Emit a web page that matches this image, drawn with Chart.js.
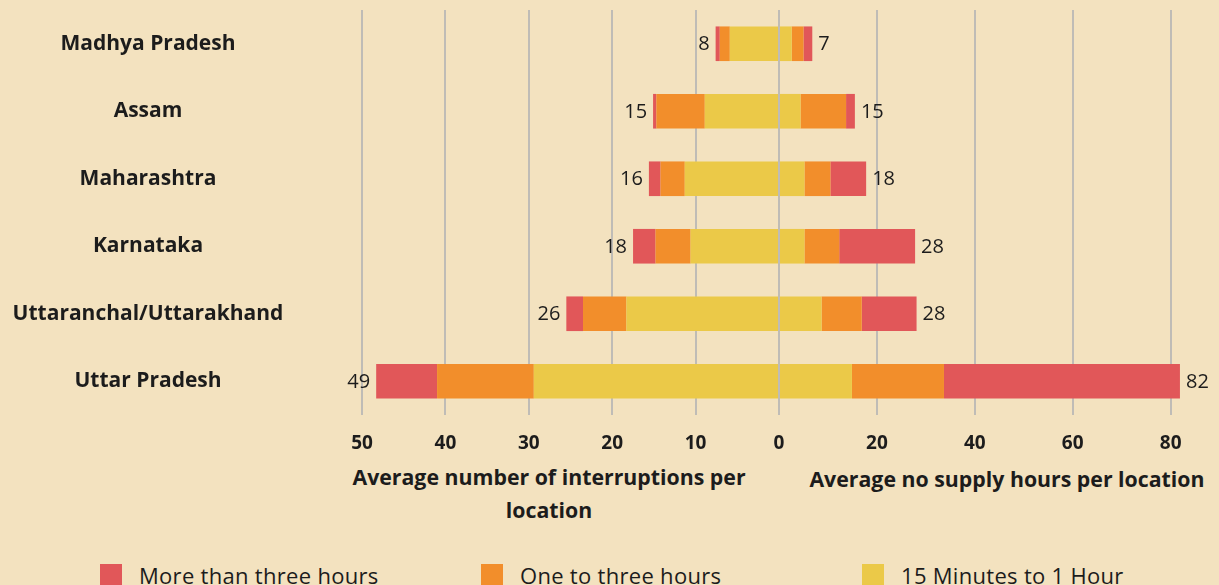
<!DOCTYPE html>
<html>
<head>
<meta charset="utf-8">
<script src="https://cdn.jsdelivr.net/npm/chart.js@4.4.1/dist/chart.umd.min.js"></script>
<style>
	html, body { margin: 0; background: #F3E2BF; }
	#wrap { position: relative; width: 1219px; height: 585px; overflow: hidden; font-family: "Open Sans", sans-serif; color: #1c1c1c; }
	#chart { position: absolute; left: 0; top: 0; }
	.axis-title { position: absolute; font-weight: bold; font-size: 21.3px; line-height: 33px; text-align: center; white-space: nowrap; }
	.legend { position: absolute; top: 560px; display: flex; align-items: center; font-size: 22px; letter-spacing: 0.3px; white-space: nowrap; }
	.legend i { display: inline-block; width: 22px; height: 23px; margin-right: 17px; }
</style>
</head>
<body>
<div id="wrap">
	<canvas id="chart" width="1219" height="460"></canvas>
	<div class="axis-title" style="left:339px; top:460px; width:420px;">Average number of interruptions per<br>location</div>
	<div class="axis-title" style="left:797px; top:462px; width:420px;">Average no supply hours per location</div>
	<div id="legend"></div>
</div>
<script>
const states = ['Madhya Pradesh', 'Assam', 'Maharashtra', 'Karnataka', 'Uttaranchal/Uttarakhand', 'Uttar Pradesh'];

// left half: average number of interruptions per location
const intShort = [5.9, 8.9, 11.3, 10.6, 18.3, 29.4];   // 15 Minutes to 1 Hour
const intMid = [1.2, 5.8, 2.9, 4.2, 5.2, 11.6];        // One to three hours
const intLong = [0.5, 0.4, 1.4, 2.7, 2.0, 7.3];        // More than three hours
const intTotals = [8, 15, 16, 18, 26, 49];

// right half: average no supply hours per location
const hrsShort = [2.6, 4.4, 5.2, 5.2, 8.7, 14.9];
const hrsMid = [2.4, 9.3, 5.3, 7.1, 8.2, 18.8];
const hrsLong = [1.8, 1.8, 7.3, 15.5, 11.2, 48.2];
const hrsTotals = [7, 15, 18, 28, 28, 82];

const intTicks = [50, 40, 30, 20, 10, 0];
const hrsTicks = [20, 40, 60, 80];

const seriesNames = ['More than three hours', 'One to three hours', '15 Minutes to 1 Hour'];
const colors = { long: '#E15759', mid: '#F28E2B', short: '#EBC948' };

// the two halves use different units: one hour on the right is drawn as R interruptions
const R = 0.587;
const fg = '#1c1c1c';
const family = 'Open Sans';
const labelFont = { family, weight: 'bold', size: 21 };

// center the state names on x=148 with the plot starting at x=362
const measure = document.createElement('canvas').getContext('2d');
measure.font = `bold ${labelFont.size}px "${family}"`;
const widest = Math.max(...states.map(s => measure.measureText(s).width));

const bar = (label, values, color, sign) => ({
	label,
	data: values.map(v => v * sign),
	backgroundColor: color,
	borderWidth: 0,
	barPercentage: 0.513,
	categoryPercentage: 1,
});

const totalsPlugin = {
	id: 'totals',
	afterDatasetsDraw(chart) {
		const { ctx, scales: { x, y } } = chart;
		ctx.save();
		ctx.font = `20px "${family}"`;
		ctx.fillStyle = fg;
		ctx.textBaseline = 'middle';
		states.forEach((s, i) => {
			const yc = y.getPixelForValue(i) + 1;
			const left = intShort[i] + intMid[i] + intLong[i];
			const right = (hrsShort[i] + hrsMid[i] + hrsLong[i]) * R;
			ctx.textAlign = 'right';
			ctx.fillText(intTotals[i], x.getPixelForValue(-left) - 6, yc);
			ctx.textAlign = 'left';
			ctx.fillText(hrsTotals[i], x.getPixelForValue(right) + 6, yc);
		});
		ctx.restore();
	},
};

new Chart(document.getElementById('chart'), {
	type: 'bar',
	data: {
		labels: states,
		datasets: [
			bar('15 Minutes to 1 Hour', intShort, colors.short, -1),
			bar('One to three hours', intMid, colors.mid, -1),
			bar('More than three hours', intLong, colors.long, -1),
			bar('15 Minutes to 1 Hour', hrsShort.map(v => v * R), colors.short, 1),
			bar('One to three hours', hrsMid.map(v => v * R), colors.mid, 1),
			bar('More than three hours', hrsLong.map(v => v * R), colors.long, 1),
		],
	},
	options: {
		indexAxis: 'y',
		responsive: false,
		animation: false,
		layout: { padding: { top: 10, right: 23, left: 0, bottom: 0 } },
		plugins: { legend: { display: false }, tooltip: { enabled: false } },
		scales: {
			x: {
				type: 'linear',
				min: -50,
				max: 50,
				stacked: true,
				afterBuildTicks: s => {
					s.ticks = [...intTicks.map(v => ({ value: -v })), ...hrsTicks.map(v => ({ value: v * R }))];
				},
				afterFit: s => { s.height = 45; },
				ticks: {
					autoSkip: false,
					maxRotation: 0,
					padding: 17,
					color: fg,
					font: { family, weight: 'bold', size: 19 },
					callback: v => v <= 0 ? String(Math.round(-v)) : String(Math.round(v / R)),
				},
				grid: { color: '#BFBCB6', lineWidth: 2, drawTicks: false },
				border: { display: false },
			},
			y: {
				stacked: true,
				// the big label padding would otherwise also pad the plot top and bottom
				afterFit: s => { s.width = 362; s.paddingTop = 0; s.paddingBottom = 0; },
				grid: { display: false, drawTicks: false },
				border: { display: false },
				ticks: {
					crossAlign: 'center',
					padding: 362 - 148 - widest / 2,
					color: fg,
					font: labelFont,
				},
			},
		},
	},
	plugins: [totalsPlugin],
});

// legend laid out in three equal columns like the original
const legendColors = [colors.long, colors.mid, colors.short];
const legendLeft = [100, 481, 862];
document.getElementById('legend').innerHTML = seriesNames.map((name, i) =>
	`<div class="legend" style="left:${legendLeft[i]}px"><i style="background:${legendColors[i]}"></i>${name}</div>`).join('');
</script>
</body>
</html>
